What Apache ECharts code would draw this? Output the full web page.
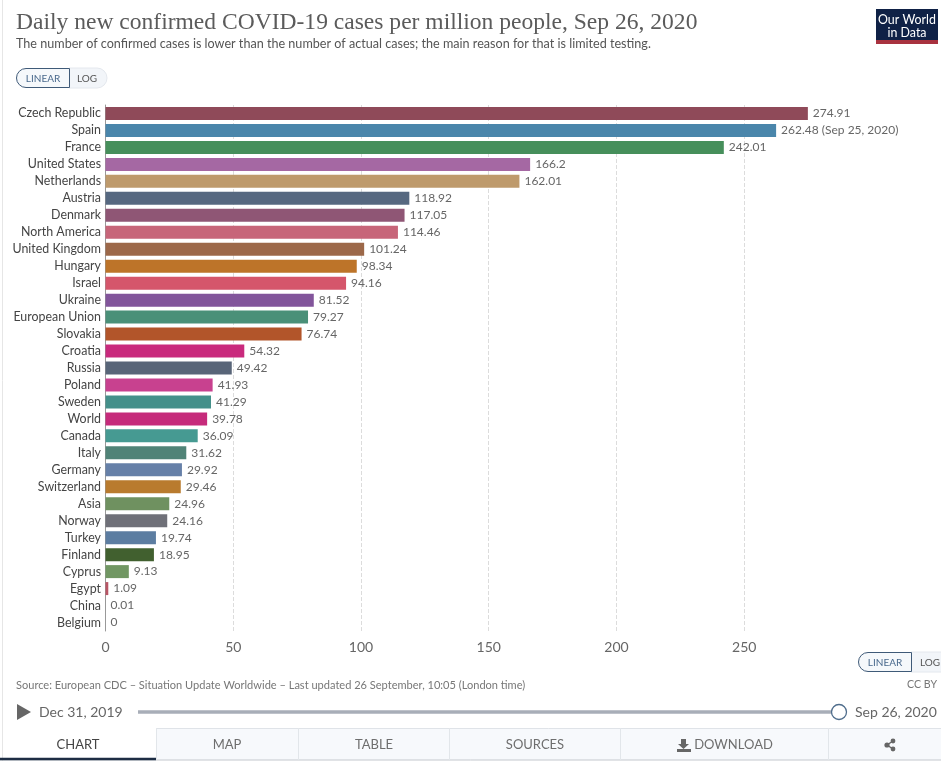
<!DOCTYPE html>
<html><head><meta charset="utf-8">
<style>html,body{margin:0;padding:0;background:#fff}#c{width:941px;height:761px}</style>
<script src="https://cdn.jsdelivr.net/npm/echarts@6/dist/echarts.min.js"></script>
</head><body><div id="c"></div>
<script>
const categories = ["Czech Republic","Spain","France","United States","Netherlands","Austria","Denmark","North America","United Kingdom","Hungary","Israel","Ukraine","European Union","Slovakia","Croatia","Russia","Poland","Sweden","World","Canada","Italy","Germany","Switzerland","Asia","Norway","Turkey","Finland","Cyprus","Egypt","China","Belgium"];
const values = [274.91,262.48,242.01,166.2,162.01,118.92,117.05,114.46,101.24,98.34,94.16,81.52,79.27,76.74,54.32,49.42,41.93,41.29,39.78,36.09,31.62,29.92,29.46,24.96,24.16,19.74,18.95,9.13,1.09,0.01,0];
const notes = {"Spain":" (Sep 25, 2020)"};
const colors = ["#8f4a59","#4a86ab","#468f5b","#a568a3","#be9a6c","#566880","#8f5675","#c76579","#9c6849","#bd7429","#d5566b","#82559b","#4a9078","#b2552a","#c92a7d","#586578","#c8418f","#44908a","#c62b7b","#469a92","#508377","#6680a8","#b97b2e","#6f9160","#6f7078","#5c7da1","#41602f","#719763","#b85565","#888888","#888888"];
const title = "Daily new confirmed COVID-19 cases per million people, Sep 26, 2020";
const subtitle = "The number of confirmed cases is lower than the number of actual cases; the main reason for that is limited testing.";
const source = "Source: European CDC – Situation Update Worldwide – Last updated 26 September, 10:05 (London time)";
const startDate = "Dec 31, 2019", endDate = "Sep 26, 2020";
const tabs = ["CHART","MAP","TABLE","SOURCES","DOWNLOAD"];

const F = 'Lato, "Noto Sans", sans-serif';
const txt = (x,y,text,size,fill,align,family,weight) => ({type:'text',silent:true,style:{x,y,text,font:`${weight||'normal'} ${size}px ${family||F}`,fill,align:align||'left',verticalAlign:'middle'}});
const rect = (x,y,w,h,fill,stroke,r) => ({type:'rect',silent:true,shape:{x,y,width:w,height:h,r:r||0},style:{fill:fill||'none',stroke:stroke||'none',lineWidth:1}});
const line = (x1,y1,x2,y2,stroke,w) => ({type:'line',silent:true,shape:{x1,y1,x2,y2},style:{stroke,lineWidth:w||1}});

function toggle(x,y,wa,wb){
  return [
    rect(x+wa,y,wb,20,'#f2f5f9','#e4e8ee',[0,10,10,0]),
    rect(x+.5,y+.5,wa,19,'#f5f8fb','#3f5a78',[10,0,0,10]),
    txt(x+wa/2+.5,y+10.5,'LINEAR',10,'#48688c','center'),
    txt(x+wa+wb/2-1,y+10.5,'LOG',10,'#555','center')
  ];
}
const tabEdges = [156,298,449,620,828,941];
const tabCenters = [78,227,374,535,733.5];
const g = [
  line(2.5,0,2.5,761,'#e6e6e6'),
  txt(16,23,title,23.55,'#5b5b5b','left','"Liberation Serif", serif'),
  txt(16,43.5,subtitle,12.6,'#555'),
  ...toggle(16,68,53,38),
  ...toggle(858,652,53,40),
  rect(876,9,62,31,'#0f2146'),
  rect(876,40,62,4,'#a8323f'),
  txt(907,19.5,'Our World',12.4,'#fff','center'),
  txt(907,33,'in Data',12.4,'#fff','center'),
  txt(16,685,source,11.05,'#777'),
  txt(937,685,'CC BY',10.6,'#777','right'),
  {type:'polygon',silent:true,shape:{points:[[17,704],[31,712],[17,720]]},style:{fill:'#666'}},
  txt(39,712,startDate,14,'#666'),
  line(138,712,832,712,'#a8aeb8',3.5),
  {type:'circle',silent:true,shape:{cx:839,cy:712,r:7.5},style:{fill:'#fff',stroke:'#4f6d8c',lineWidth:1.3}},
  txt(855,712,endDate,14,'#666'),
  rect(156,728,785,32,'#f7f9fc'),
  line(156,728.5,941,728.5,'#dfe3e8'),
  line(0,760,941,760,'#c4c8ce'),
  line(0,759,156,759,'#1d2d44',2.5),
  ...tabEdges.slice(0,5).map(x=>line(x+.5,728,x+.5,760,'#e2e6ea')),
  ...tabs.map((t,i)=>txt(tabCenters[i],745,t,13,i?'#6e6e6e':'#444','center')),
  {type:'polygon',silent:true,shape:{points:[[681,739],[686,739],[686,744],[689,744],[683.5,749],[678,744],[681,744]]},style:{fill:'#666'}},
  rect(677,749,14,3,'#666'),
  line(887,745,893,741,'#666',1.5), line(887,745,893,749,'#666',1.5),
  {type:'circle',silent:true,shape:{cx:887,cy:745,r:2.6},style:{fill:'#666'}},
  {type:'circle',silent:true,shape:{cx:893,cy:741,r:2.4},style:{fill:'#666'}},
  {type:'circle',silent:true,shape:{cx:893,cy:749,r:2.4},style:{fill:'#666'}}
];

const chart = echarts.init(document.getElementById('c'),null,{renderer:'canvas'});
chart.setOption({
  animation:false,
  backgroundColor:'#fff',
  grid:{left:105.5,top:105,width:702.6,height:526,containLabel:false},
  xAxis:{type:'value',min:0,max:275,interval:50,
    axisLine:{show:false},axisTick:{show:false},
    splitLine:{show:true,showMaxLine:false,showMinLine:false,lineStyle:{type:'dashed',color:'#dcdcdc',width:1}},
    axisLabel:{showMaxLabel:false,color:'#666',fontSize:14,fontFamily:F,margin:9}},
  yAxis:{type:'category',inverse:true,data:categories,
    axisLine:{show:true,lineStyle:{color:'#999',width:1}},axisTick:{show:false},
    axisLabel:{color:'#444',fontSize:12.4,fontFamily:F,margin:4.5,interval:0}},
  series:[{type:'bar',barWidth:13,
    data:values.map((v,i)=>({value:v,itemStyle:{color:colors[i]}})),
    label:{show:true,position:'right',distance:5,color:'#666',fontSize:12,fontFamily:F,
      formatter:p=>p.value+(notes[p.name]||'')}}],
  graphic:{elements:g}
});
</script></body></html>
